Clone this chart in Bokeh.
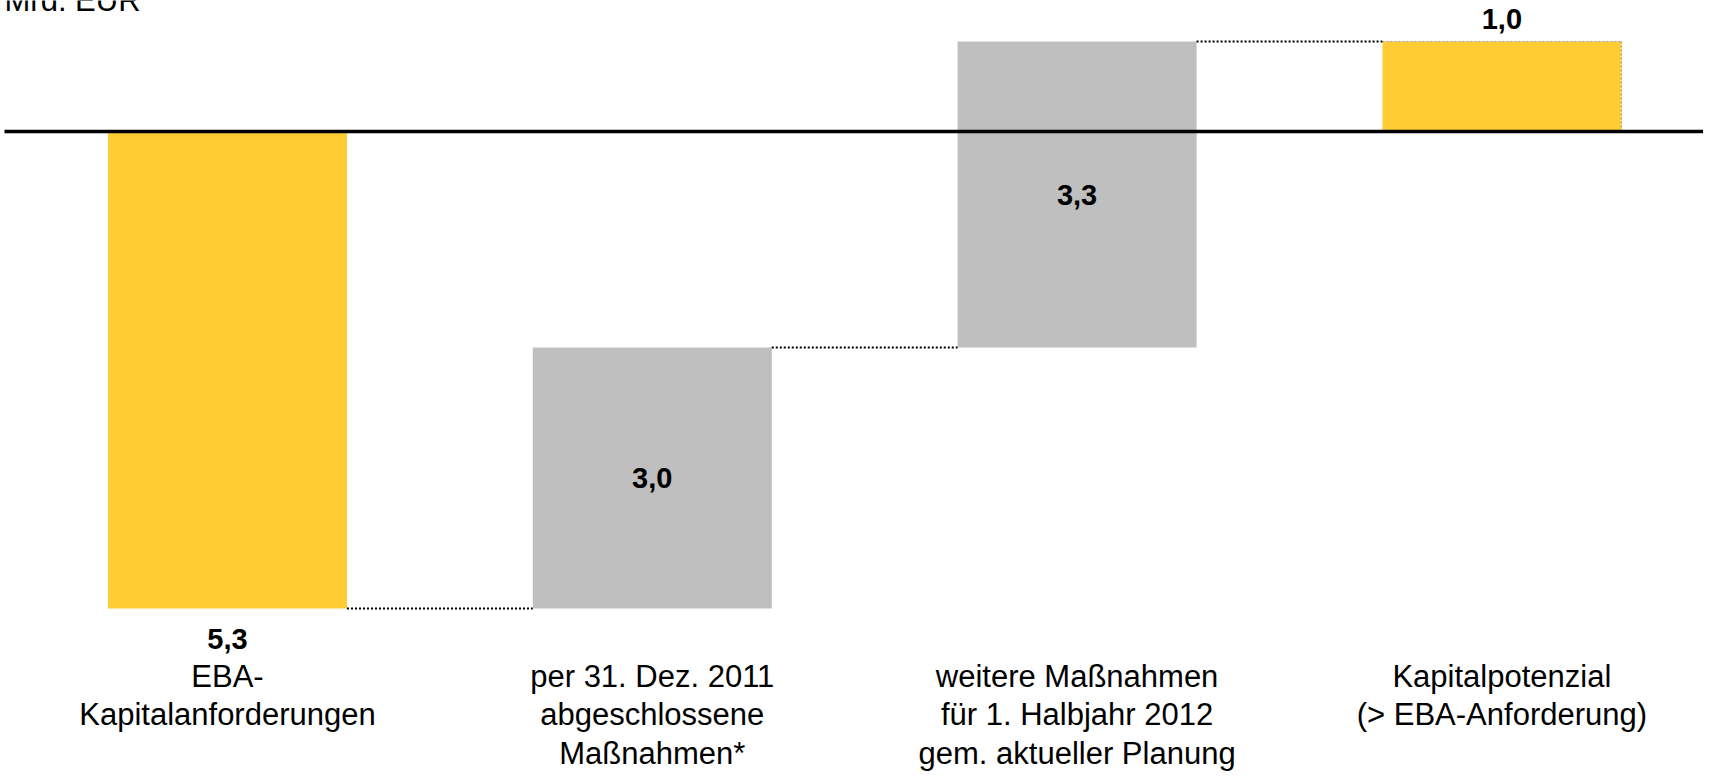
from bokeh.plotting import figure
from bokeh.models import Range1d
from bokeh.embed import file_html
from bokeh.resources import INLINE
from bokeh.core.properties import value

# ---- data (Mrd. EUR) ----
categories = ["EBA-\nKapitalanforderungen",
              "per 31. Dez. 2011\nabgeschlossene\nMaßnahmen*",
              "weitere Maßnahmen\nfür 1. Halbjahr 2012\ngem. aktueller Planung",
              "Kapitalpotenzial\n(> EBA-Anforderung)"]
bar_start = [0.0, -5.3, -2.4, 0.0]
bar_end = [-5.3, -2.4, 1.0, 1.0]
value_labels = ["5,3", "3,0", "3,3", "1,0"]
bar_kind = ["total", "step", "step", "total"]
unit_label = "Mrd. EUR"

FONT = "Liberation Sans"
YELLOW = "#FFCC33"
GRAY = "#BFBFBF"

X0, X1 = 0.4657, 4.4746
Y1 = 1.4556
Y0 = Y1 - 776 / 90.0

xs = [i + 1 for i in range(len(categories))]
half = 0.2813

p = figure(width=1703, height=776, output_backend="svg", toolbar_location=None,
           x_range=Range1d(X0, X1), y_range=Range1d(Y0, Y1),
           min_border=0, min_border_left=0, min_border_right=0,
           min_border_top=0, min_border_bottom=0)
p.axis.visible = False
p.grid.visible = False
p.outline_line_color = None
p.background_fill_color = "white"
p.border_fill_color = "white"

lefts = [x - half for x in xs]
rights = [x + half for x in xs]
bottoms = [min(a, b) for a, b in zip(bar_start, bar_end)]
tops = [max(a, b) for a, b in zip(bar_start, bar_end)]
colors = [YELLOW if k == "total" else GRAY for k in bar_kind]

p.quad(left=lefts, right=rights, bottom=bottoms, top=tops,
       fill_color=colors, line_color=None)

# dotted outline on the last bar (top and right edge)
p.segment(x0=[lefts[3], rights[3]], y0=[tops[3], tops[3]],
          x1=[rights[3], rights[3]], y1=[tops[3], bottoms[3]],
          line_color="#9E9E9E", line_width=1.2, line_dash="2 2")

# connectors
cx0, cx1, cy = [], [], []
for i in range(len(xs) - 1):
    cx0.append(rights[i])
    cx1.append(lefts[i + 1])
    cy.append(bar_end[i])
p.segment(x0=cx0, y0=cy, x1=cx1, y1=cy, line_color="black",
          line_width=1.8, line_dash="2 2")

# zero line
p.segment(x0=[X0 + 4 / 424.8], y0=[0], x1=[X1], y1=[0],
          line_color="black", line_width=3.5)

# value labels
lx, ly, loff = [], [], []
for i, k in enumerate(bar_kind):
    lx.append(xs[i])
    if k == "step":
        ly.append((bar_start[i] + bar_end[i]) / 2)
        loff.append(0)
    else:
        ly.append(bar_end[i])
        loff.append(30 if bar_end[i] < 0 else -23)
p.text(x=lx, y=ly, text=value_labels, y_offset=loff,
       text_font=value(FONT), text_font_size="29px", text_font_style="bold",
       text_align="center", text_baseline="middle", text_color="black")

# category labels
base = min(bottoms)
p.text(x=xs, y=[base] * len(xs), text=categories, y_offset=50,
       text_font=value(FONT), text_font_size="31px", text_align="center",
       text_baseline="top", text_line_height=1.1, text_color="black")

# unit label (cut at top as in the original)
p.text(x=[X0 + 4 / 424.8], y=[Y1], text=[unit_label], y_offset=0,
       text_font=value(FONT), text_font_size="31px", text_align="left",
       text_baseline="alphabetic", text_color="black")

open("out.html", "w").write(file_html(p, INLINE))
